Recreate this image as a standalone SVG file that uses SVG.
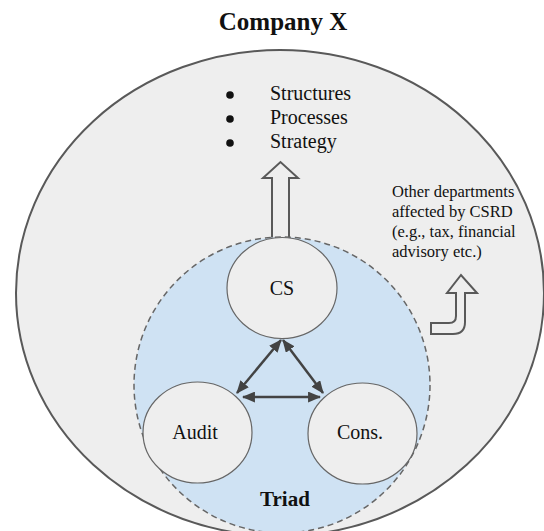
<svg xmlns="http://www.w3.org/2000/svg" width="544" height="531" viewBox="0 0 544 531">
<style>
text{font-family:"Liberation Serif","Times New Roman",serif;fill:#111;}
.lbl{font-size:20px;text-anchor:middle;}
.bold{font-weight:bold;text-anchor:middle;}
.node{fill:#eeeeee;stroke:#666666;stroke-width:1.2;}
.hollow{fill:#eeeeee;stroke:#595959;stroke-width:2;stroke-linejoin:miter;}
.conn{stroke:#434343;stroke-width:2.5;fill:none;marker-start:url(#ah);marker-end:url(#ah);}
.note{font-size:16.5px;}
</style>
<defs>
<marker id="ah" markerUnits="userSpaceOnUse" viewBox="0 0 12 10" refX="11" refY="5" markerWidth="13" markerHeight="11" orient="auto-start-reverse">
<path d="M0,0 L12,5 L0,10 Z" fill="#434343"/>
</marker>
</defs>
<rect width="544" height="531" fill="#ffffff"/>
<g id="title"><text class="bold" x="283" y="30" font-size="25">Company X</text></g>
<g id="company"><ellipse cx="280" cy="293" rx="264" ry="243" fill="#eeeeee" stroke="#595959" stroke-width="2"/></g>
<g id="outcomes">
<circle cx="230" cy="95" r="3.8" fill="#111"/>
<circle cx="230" cy="119" r="3.8" fill="#111"/>
<circle cx="230" cy="143" r="3.8" fill="#111"/>
<text x="270" y="100" font-size="20">Structures</text>
<text x="270" y="124" font-size="20">Processes</text>
<text x="270" y="148" font-size="20">Strategy</text>
</g>
<g id="up-arrow"><path class="hollow" d="M272,240 L272,178 L263,178 L280.5,162 L298,178 L289,178 L289,240 Z"/></g>
<g id="other-departments">
<text class="note" x="392" y="197">Other departments</text>
<text class="note" x="392" y="217">affected by CSRD</text>
<text class="note" x="392" y="237">(e.g., tax, financial</text>
<text class="note" x="392" y="257">advisory etc.)</text>
<path class="hollow" d="M431,323 L449,323 Q456,323 456,316 L456,293 L447,293 L461,275 L477,293 L465,293 L465,322 Q465,334 453,334 L431,334 Z"/>
</g>
<g id="triad">
<circle cx="282" cy="385" r="148" fill="#cfe2f3" stroke="#666666" stroke-width="1.5" stroke-dasharray="6,4"/>
<text class="bold" x="285" y="506" font-size="21">Triad</text>
</g>
<g id="cs"><ellipse class="node" cx="282" cy="288" rx="55" ry="50.5"/><text class="lbl" x="282" y="295">CS</text></g>
<g id="audit"><ellipse class="node" cx="197.5" cy="432.5" rx="54.5" ry="50.5"/><text class="lbl" x="195" y="439">Audit</text></g>
<g id="cons"><ellipse class="node" cx="362.5" cy="433.5" rx="54.5" ry="50.5"/><text class="lbl" x="360" y="439">Cons.</text></g>
<g id="connectors">
<line class="conn" x1="281" y1="340" x2="237" y2="393"/>
<line class="conn" x1="283" y1="340" x2="323" y2="393"/>
<line class="conn" x1="243" y1="397" x2="320" y2="397"/>
</g>
</svg>
